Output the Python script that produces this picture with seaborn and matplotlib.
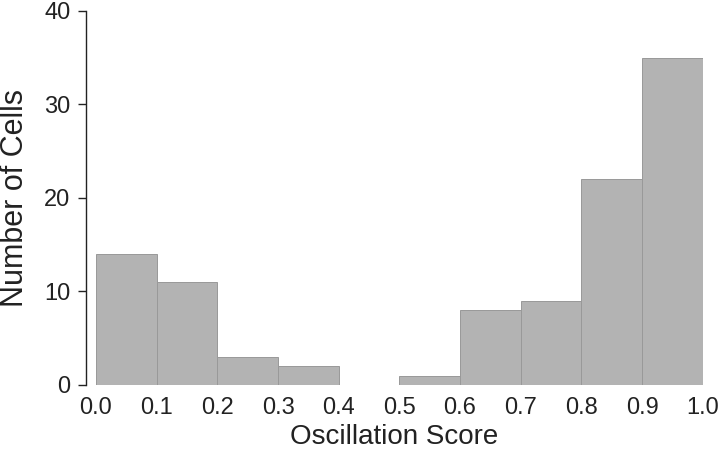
import numpy as np
import pandas as pd
import seaborn as sns
import matplotlib.pyplot as plt

# bin centres of the oscillation score histogram and cell counts
bin_centers = [0.05, 0.15, 0.25, 0.35, 0.45, 0.55, 0.65, 0.75, 0.85, 0.95]
cell_counts = [14, 11, 3, 2, 0, 1, 8, 9, 22, 35]
bin_edges = [0.0, 0.1, 0.2, 0.3, 0.4, 0.5, 0.6, 0.7, 0.8, 0.9, 1.0]
x_ticks = [0.0, 0.1, 0.2, 0.3, 0.4, 0.5, 0.6, 0.7, 0.8, 0.9, 1.0]
y_ticks = [0, 10, 20, 30, 40]

df = pd.DataFrame({'score': bin_centers, 'count': cell_counts})

sns.set_style('ticks')
plt.rcParams['font.family'] = ['Liberation Sans', 'DejaVu Sans']

fig = plt.figure(figsize=(7.2, 4.54), dpi=100)
ax = fig.add_axes([0.119, 0.152, 0.857, 0.824])
sns.histplot(data=df, x='score', weights='count', bins=bin_edges,
             color='#b3b3b3', edgecolor='#999999', linewidth=0.7,
             alpha=1.0, ax=ax)

ax.set_xlim(-0.017, 1.0)
ax.set_ylim(0, 40)
ax.set_xticks(x_ticks)
ax.set_xticklabels(['{:.1f}'.format(t) for t in x_ticks])
ax.set_yticks(y_ticks)
ax.tick_params(axis='x', length=0, labelsize=17, colors='#222222', pad=9)
ax.tick_params(axis='y', length=6, width=1, labelsize=17, colors='#222222', pad=5)
for s in ['top', 'right', 'bottom']:
    ax.spines[s].set_visible(False)
ax.spines['left'].set_linewidth(1)
ax.spines['left'].set_color('#222222')
ax.set_xlabel('Oscillation Score', fontsize=20, color='#222222', labelpad=3)
ax.set_ylabel('Number of Cells', fontsize=22, color='#222222', labelpad=10)

plt.savefig('out.png', dpi=100)
